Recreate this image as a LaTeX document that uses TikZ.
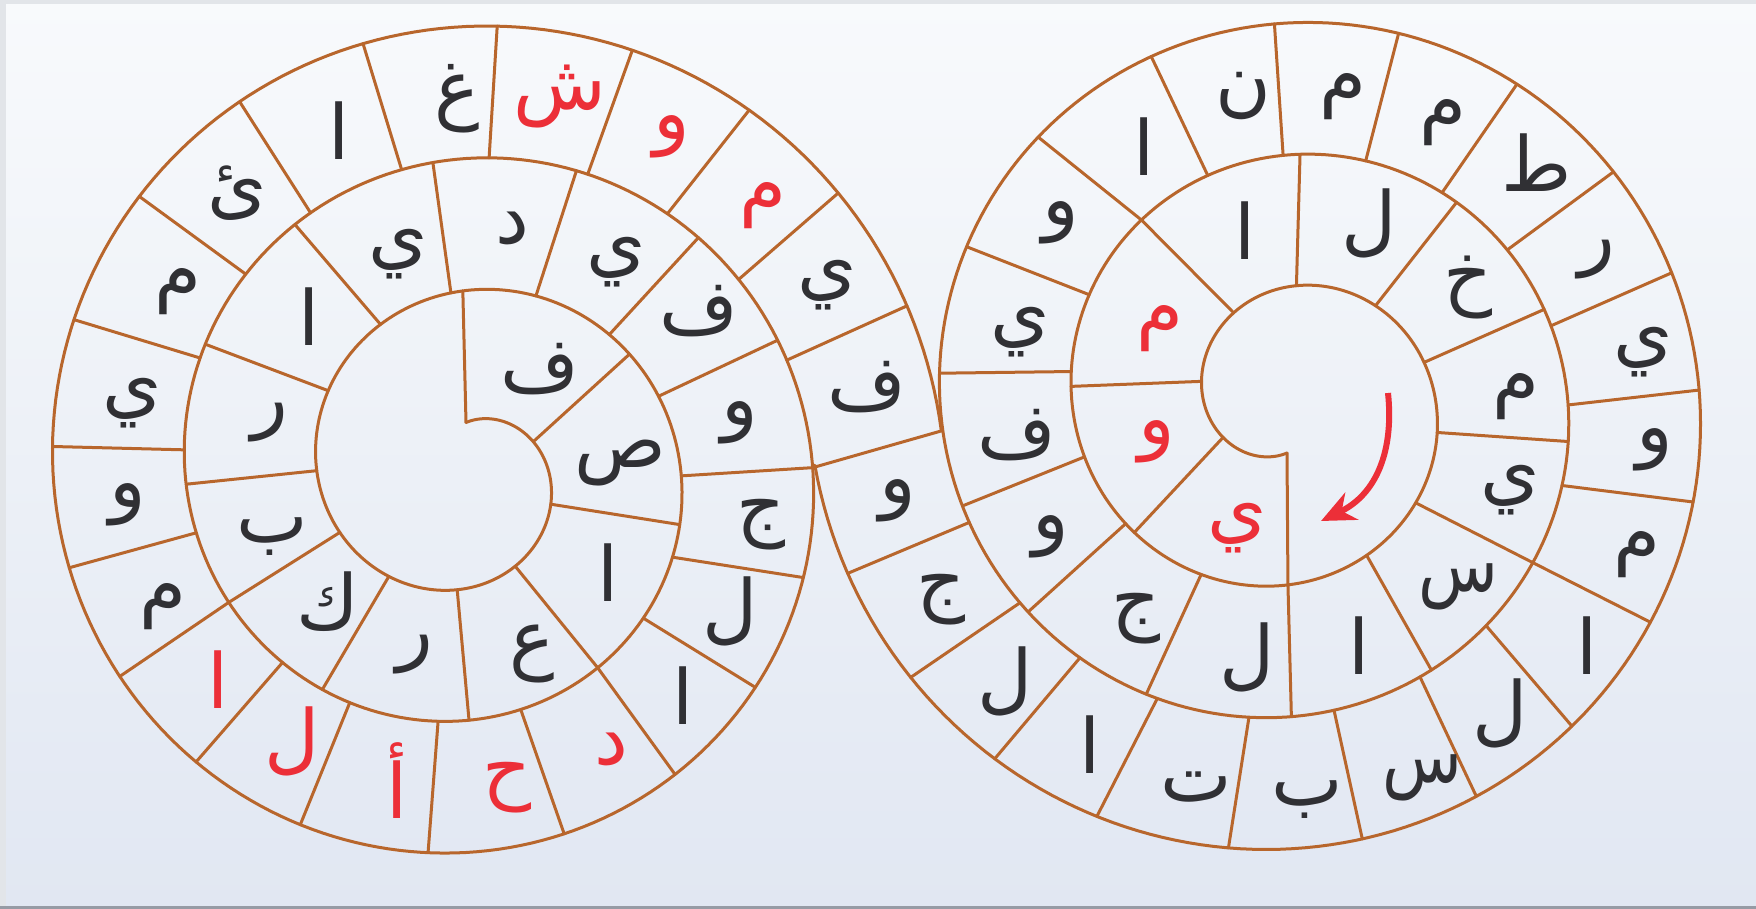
\documentclass[tikz,border=0pt]{standalone}
\usepackage{fontspec}
\usepackage{graphicx}
\newfontfamily\arabicfont[Script=Arabic]{DejaVu Sans}
\TeXXeTstate=1
\usetikzlibrary{arrows.meta}
\definecolor{spiralc}{RGB}{184,102,44}
\definecolor{letterk}{RGB}{48,48,52}
\definecolor{letterr}{RGB}{236,47,56}
\definecolor{bgtop}{RGB}{248,250,252}
\definecolor{bgbot}{RGB}{225,231,242}
\definecolor{framec}{RGB}{226,229,233}
\definecolor{framed}{RGB}{150,155,165}
\begin{document}
\begin{tikzpicture}[x=1pt,y=-1pt,line cap=round,line join=round,
  spl/.style={draw=spiralc,line width=3pt},
  glyph/.style={font=\arabicfont\fontsize{76}{80}\selectfont,inner sep=0pt,anchor=center}]
\useasboundingbox (0,0) rectangle (1756,909);
\fill[top color=bgtop,bottom color=bgbot] (0,0) rectangle (1756,909);
\fill[framec] (0,0) rectangle (1756,4);
\fill[framec] (0,0) rectangle (6,909);
\fill[framed] (0,906) rectangle (1756,909);
% left spiral
\draw[spl] plot[domain=0:1165,samples=700] ({466+(50+0.366667*\x)*sin(\x)},{472.5-(50+0.366667*\x)*cos(\x)});
% right spiral
\draw[spl] plot[domain=0:1162.5,samples=700] ({1287-(50+0.366667*\x)*sin(\x)},{403+(50+0.366667*\x)*cos(\x)});
% left dividers
\foreach \a/\b in {0/359,65.4/414.1,110.5/463.7,152.3/506,184.3/539.3,216.6/573.5,244.6/601.3,270.7/627.6,300.7/656.2,330/685.4,355.2/713.9,381.6/740.1,406.1/764.7,428.4/787,450.9/809.2,472.3/827.3,489.4/846.6,506/865.3,527/884.8,546.4/905.7,566.8/925.2,584/943,601.3/959.5,617.4/976.5,634.6/993.6,653.3/1011.3,672/1030.2,689.1/1048.6,708/1066.5,724.2/1084,742.2/1101.5,757.9/1118,774.7/1133.1,790.7/1149.3,809.2/1165}
  \draw[spl] ({466+(50+0.366667*\a)*sin(\a)},{472.5-(50+0.366667*\a)*cos(\a)}) -- ({466+(50+0.366667*\b)*sin(\b)},{472.5-(50+0.366667*\b)*cos(\b)});
% right dividers
\foreach \a/\b in {0/359.7,359.7/719.2,61.7/409.7,104.2/454.4,149.4/501.5,184.6/543,222.3/580.2,253.5/610,281.1/637.8,307.8/663,332.4/691.6,386.6/745.8,413.2/771.1,435.1/792.4,458.3/814.9,478.7/836,501.5/856.9,520.8/878.6,539.1/898.1,558/916.8,576.4/935.8,595.2/954.7,613.7/971.3,630.4/988.2,646.7/1003.7,663/1021.1,678.2/1038.6,694.1/1054.3,711.3/1070.2,726.9/1087.5,743.7/1104.7,759.1/1119.4,773.2/1133.9,789.4/1148.8}
  \draw[spl] ({1287-(50+0.366667*\a)*sin(\a)},{403+(50+0.366667*\a)*cos(\a)}) -- ({1287-(50+0.366667*\b)*sin(\b)},{403+(50+0.366667*\b)*cos(\b)});
% letters
\foreach \px/\py/\cl/\ch [count=\i] in {540/369/k/ف,620/463/k/ص,608/573/k/ا,532/654/k/ع,415/655/k/ر,328/602/k/ك,272/537/k/ب,270/423/k/ر,309/317/k/ا,398/254/k/ي,512/228/k/د,616/262/k/ي,699/311/k/ف,740/423/k/و,761/525/k/ج,730/611/k/ل,683/696/k/ا,611/749/r/د,507/788/r/ح,397/781/r/أ,292/741/r/ل,218/680/r/ا,163/607/k/م,128/505/k/و,132/403/k/ي,178/292/k/م,237/193/k/ئ,339/131/k/ا,457/99/k/غ,560/97/r/ش,672/137/r/و,763/206/r/م,827/285/k/ي,867/387/k/ف,898/501/k/و,941/600/k/ج,1005/681/k/ل,1090/745/k/ا,1196/787/k/ت,1307/800/k/ب,1500/713/k/ل,1587/646/k/ا,1637/555/k/م,1655/450/k/و,1643/352/k/ي,1597/260/k/ر,1537/163/k/ط,1443/123/k/م,1343/97/k/م,1243/96/k/ن,1144/147/k/ا,1061/223/k/و,1020/332/k/ي,1017/435/k/ف,1051/537/k/و,1136/619/k/ج,1247/657/k/ل,1237/528/r/ي,1157/442/r/و,1160/329/r/م,1245/231/k/ا,1369/223/k/ل,1468/288/k/خ,1516/397/k/م,1510/490/k/ي,1359/646/k/ا}
  \node[glyph,text=letter\cl] (g\i) at (\px,\py) {\beginR\ch\endR};
\node[glyph,text=letterk] (sinA) at (1422,778) {\scalebox{0.86}[1]{\beginR س\endR}};
\node[glyph,text=letterk] (sinB) at (1458,587) {\scalebox{0.86}[1]{\beginR س\endR}};
% arrow
\coordinate (arrowtail) at (1388,393);
\coordinate (arrowtip) at (1321,521);
\draw[draw=letterr,line width=6pt,line cap=butt,-{Stealth[length=34pt,width=30pt]}] (arrowtail) .. controls (1394,450) and (1377,494) .. (arrowtip);
\end{tikzpicture}
\end{document}
